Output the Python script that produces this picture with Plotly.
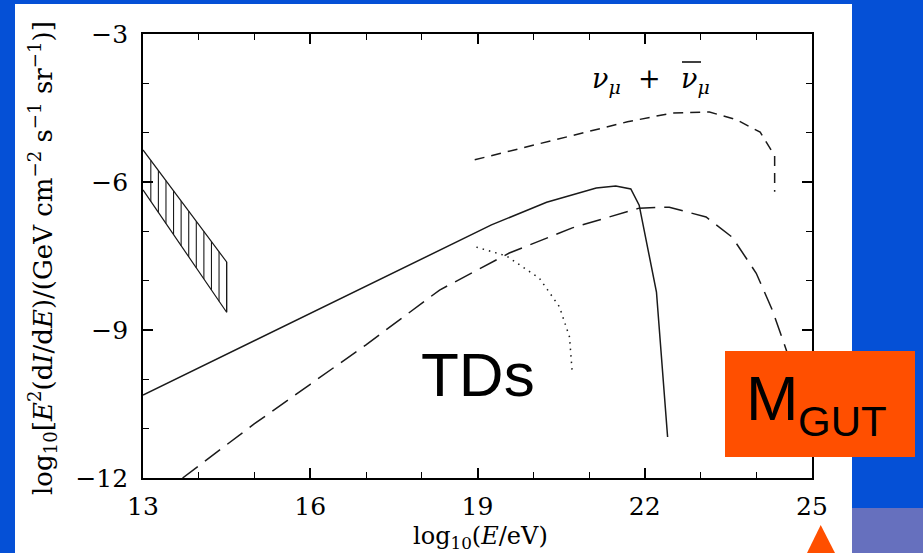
import numpy as np
import plotly.graph_objects as go

# ---- data (log10 E in eV, log10 flux) ----
solid_x = [13.0, 14.5, 16.0, 17.5, 18.32, 19.25, 20.24, 21.13, 21.48, 21.75, 21.9, 22.21, 22.41]
solid_y = [-10.32, -9.49, -8.66, -7.83, -7.38, -6.87, -6.41, -6.12, -6.08, -6.14, -6.47, -8.23, -11.17]

longdash_x = [13.71, 15.0, 16.0, 17.0, 18.32, 19.57, 20.7, 21.9, 22.44, 23.1, 23.57, 24.0, 24.29, 24.54, 24.8]
longdash_y = [-12.0, -10.9, -10.1, -9.3, -8.19, -7.44, -6.93, -6.53, -6.51, -6.71, -7.12, -7.85, -8.6, -9.41, -10.4]

dotted_x = [18.98, 19.52, 20.11, 20.47, 20.65, 20.7]
dotted_y = [-7.32, -7.5, -7.95, -8.53, -9.14, -9.87]

numu_x = [18.95, 20.47, 21.69, 22.5, 23.16, 23.65, 24.07, 24.33, 24.33]
numu_y = [-5.55, -5.13, -4.78, -4.6, -4.58, -4.74, -4.99, -5.47, -6.2]

band_x = [13.0, 14.5]
band_upper = [-5.35, -7.62]
band_lower = [-6.16, -8.64]

x_ticks = [13, 16, 19, 22, 25]
y_ticks = [-12, -9, -6, -3]

# ---- canvas geometry ----
W, H = 923, 553
ML, MR, MT, MB = 143, 111, 34, 75
PW, PH = W - ML - MR, H - MT - MB

BLUE = "#0550D6"
ORANGE = "#FF4F00"
SERIF = "DejaVu Serif"
SANS = "Liberation Sans"


def px(x):
    return (x - ML) / PW


def py(y):
    return (H - MB - y) / PH


fig = go.Figure()

line_col = "#1a1a1a"
fig.add_trace(go.Scatter(x=solid_x, y=solid_y, mode="lines",
                         line=dict(color=line_col, width=1.5)))
fig.add_trace(go.Scatter(x=longdash_x, y=longdash_y, mode="lines",
                         line=dict(color=line_col, width=1.5, dash="19px,9px")))
fig.add_trace(go.Scatter(x=dotted_x, y=dotted_y, mode="lines",
                         line=dict(color=line_col, width=1.5, dash="1.5px,5px")))
fig.add_trace(go.Scatter(x=numu_x, y=numu_y, mode="lines",
                         line=dict(color=line_col, width=1.5, dash="10px,7px")))

# hatched band: outline plus vertical hatching
bx = [band_x[0], band_x[1], band_x[1], band_x[0]]
by = [band_upper[0], band_upper[1], band_lower[1], band_lower[0]]
fig.add_trace(go.Scatter(x=bx, y=by, mode="lines", line=dict(color=line_col, width=1.2)))
hx, hy = [], []
step = 0.136
xs = np.arange(band_x[1], band_x[0] + 0.05, -step)
for xv in xs:
    up = np.interp(xv, band_x, band_upper)
    lo = np.interp(xv, band_x, band_lower)
    hx += [xv, xv, None]
    hy += [up, lo, None]
fig.add_trace(go.Scatter(x=hx, y=hy, mode="lines", line=dict(color=line_col, width=1.1)))

axis_common = dict(showline=True, linecolor="black", linewidth=1.6, mirror="ticks",
                   ticks="inside", ticklen=10, tickwidth=1.5, tickcolor="black",
                   showgrid=False, zeroline=False,
                   tickfont=dict(family=SERIF, size=25, color="black"))

fig.update_xaxes(range=[13, 25], tickvals=x_ticks, ticktext=[str(v) for v in x_ticks],
                 ticklabelstandoff=5,
                 minor=dict(dtick=1, ticks="inside", ticklen=6, tickwidth=1.3, tickcolor="black"),
                 **axis_common)
fig.update_yaxes(range=[-12, -3], tickvals=y_ticks, ticklabelstandoff=8,
                 minor=dict(dtick=1, ticks="inside", ticklen=6, tickwidth=1.3, tickcolor="black"),
                 **axis_common)

shapes = [
    # white slide panel
    dict(type="rect", xref="paper", yref="paper", x0=px(15), x1=px(852), y0=py(4), y1=py(553),
         fillcolor="white", line=dict(width=0), layer="below"),
    # lighter blue block bottom right
    dict(type="rect", xref="paper", yref="paper", x0=px(852), x1=px(923), y0=py(508), y1=py(553),
         fillcolor="#6670BE", line=dict(width=0), layer="above"),
    # orange label box
    dict(type="rect", xref="paper", yref="paper", x0=px(725), x1=px(915), y0=py(351), y1=py(457),
         fillcolor=ORANGE, line=dict(width=0), layer="above"),
    # orange pointer triangle
    dict(type="path", xref="paper", yref="paper",
         path=f"M {px(807)} {py(553)} L {px(820.7)} {py(525)} L {px(835)} {py(553)} Z",
         fillcolor=ORANGE, line=dict(width=0), layer="above"),
    # bar over the antineutrino symbol
    dict(type="line", xref="paper", yref="paper", x0=px(682), x1=px(701), y0=py(62), y1=py(62),
         line=dict(color="black", width=1.5), layer="above"),
]

nu_font = dict(family=SERIF, size=27, color="black")
annotations = [
    dict(text="log<sub>10</sub>[<i>E</i><sup>2</sup>(d<i>I</i>/d<i>E</i>)/(GeV cm<sup>−2</sup> s<sup>−1</sup> sr<sup>−1</sup>)]",
         xref="paper", yref="paper", x=px(42), y=py(258), textangle=-90, showarrow=False,
         font=dict(family=SERIF, size=26, color="black"), xanchor="center", yanchor="middle"),
    dict(text="log<sub>10</sub>(<i>E</i>/eV)", xref="paper", yref="paper", x=px(480), y=py(537),
         showarrow=False, font=dict(family=SERIF, size=24, color="black"),
         xanchor="center", yanchor="middle"),
    dict(text="<i>ν</i><sub><i>μ</i></sub>", xref="paper", yref="paper",
         x=px(590), y=py(80), showarrow=False, font=nu_font, xanchor="left", yanchor="middle"),
    dict(text="+", xref="paper", yref="paper",
         x=px(649), y=py(78), showarrow=False, font=nu_font, xanchor="center", yanchor="middle"),
    dict(text="<i>ν</i><sub><i>μ</i></sub>", xref="paper", yref="paper",
         x=px(679), y=py(80), showarrow=False, font=nu_font, xanchor="left", yanchor="middle"),
    dict(text="TDs", xref="paper", yref="paper", x=px(478), y=py(374), showarrow=False,
         font=dict(family=SANS, size=62, color="black"), xanchor="center", yanchor="middle"),
    dict(text="M", xref="paper", yref="paper", x=px(744), y=py(398), showarrow=False,
         font=dict(family=SANS, size=63, color="black"), xanchor="left", yanchor="middle"),
    dict(text="GUT", xref="paper", yref="paper", x=px(796), y=py(421), showarrow=False,
         font=dict(family=SANS, size=42, color="black"), xanchor="left", yanchor="middle"),
]

fig.update_layout(width=W, height=H, margin=dict(l=ML, r=MR, t=MT, b=MB),
                  paper_bgcolor=BLUE, plot_bgcolor="white", showlegend=False,
                  shapes=shapes, annotations=annotations)

fig.write_html("out.html")
